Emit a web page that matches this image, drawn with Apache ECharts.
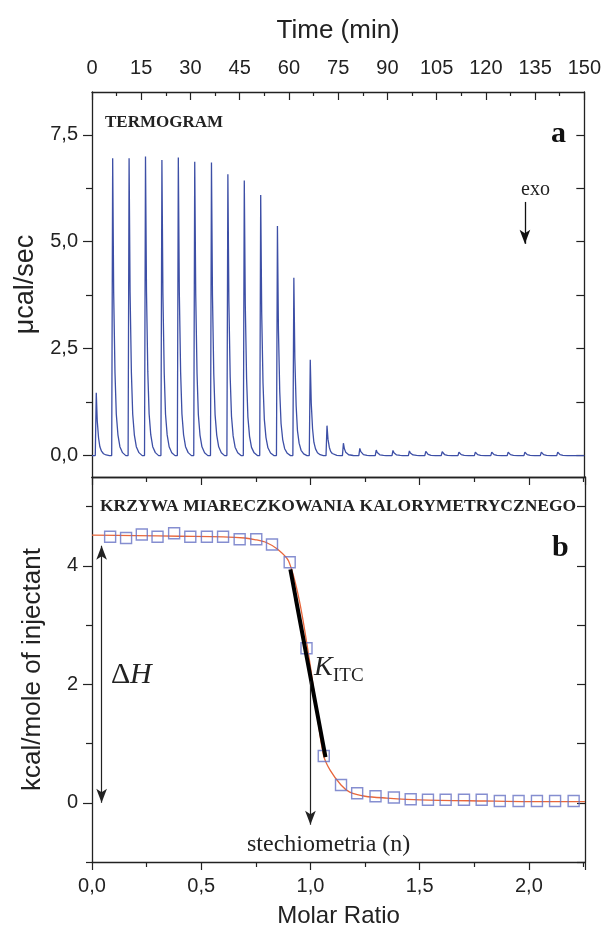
<!DOCTYPE html>
<html>
<head>
<meta charset="utf-8">
<script src="https://cdn.jsdelivr.net/npm/echarts@6/dist/echarts.min.js"></script>
<style>html,body{margin:0;padding:0;background:#fff}#c{width:604px;height:940px}</style>
</head>
<body>
<div id="c"></div>
<script>
// ---- Panel a: thermogram ----
const peakTimes = [1.3, 6.3, 11.3, 16.3, 21.3, 26.3, 31.3, 36.4, 41.4, 46.4, 51.4, 56.5, 61.5, 66.5, 71.6, 76.6, 81.6, 86.6, 91.7, 96.7, 101.7, 106.7, 111.8, 116.8, 121.8, 126.8, 131.9, 136.9, 141.9];
const peakHeights = [1.47, 6.95, 6.95, 6.99, 6.91, 6.97, 6.87, 6.85, 6.58, 6.43, 6.09, 5.37, 4.16, 2.24, 0.70, 0.29, 0.17, 0.13, 0.12, 0.11, 0.10, 0.09, 0.08, 0.08, 0.08, 0.08, 0.08, 0.08, 0.08];
// shape of one injection peak (minutes after the peak, fraction of peak height)
const shapeOffsets = [-0.3, 0, 0.3, 0.7, 1.1, 1.6, 2.2, 3.0, 4.0];
const shapeFactors = [0, 1, 0.55, 0.28, 0.14, 0.07, 0.03, 0.01, 0];
const timeTicks = [0, 15, 30, 45, 60, 75, 90, 105, 120, 135, 150];
const powerTicks = [0, 2.5, 5, 7.5];
const powerMinorTicks = [1.25, 3.75, 6.25];
const exoArrow = [[131.9, 5.93], [131.9, 4.95]];

// ---- Panel b: titration curve ----
const molarRatio = [0.083, 0.156, 0.228, 0.300, 0.376, 0.450, 0.526, 0.600, 0.676, 0.752, 0.824, 0.905, 0.982, 1.061, 1.140, 1.214, 1.298, 1.382, 1.459, 1.538, 1.619, 1.703, 1.784, 1.867, 1.953, 2.037, 2.120, 2.205];
const heat = [4.49, 4.47, 4.53, 4.49, 4.55, 4.49, 4.49, 4.49, 4.45, 4.45, 4.36, 4.06, 2.61, 0.79, 0.30, 0.16, 0.11, 0.09, 0.06, 0.05, 0.05, 0.05, 0.05, 0.03, 0.03, 0.03, 0.03, 0.03];
const fitX = [0, 0.2, 0.4, 0.6, 0.7, 0.75, 0.8, 0.85, 0.9, 0.95, 1.0, 1.03, 1.06, 1.09, 1.14, 1.18, 1.25, 1.35, 1.5, 1.8, 2.0, 2.257];
const fitY = [4.52, 4.51, 4.50, 4.49, 4.47, 4.44, 4.39, 4.28, 4.08, 3.4, 2.3, 1.5, 0.80, 0.55, 0.30, 0.18, 0.11, 0.08, 0.05, 0.03, 0.02, 0.02];
const kLine = [[0.908, 3.94], [1.069, 0.77]];
const dHArrow = [[0.044, 4.34], [0.044, 0.0]];
const stechArrow = [[1.0, 2.05], [1.0, -0.37]];
const ratioTicks = [0, 0.5, 1.0, 1.5, 2.0];
const heatTicks = [0, 2, 4];
const heatMinorTicks = [-1, 1, 3, 5];

const thermo = [[0, 0]];
peakTimes.forEach((t, i) => {
  shapeOffsets.forEach((o, j) => thermo.push([t + o, peakHeights[i] * shapeFactors[j]]));
});
thermo.push([150, 0]);

const fitData = fitX.map((x, i) => [x, fitY[i]]);
const pts = molarRatio.map((x, i) => [x, heat[i]]);

const SANS = '"Liberation Sans", Arial, sans-serif';
const SERIF = '"Liberation Serif", "Times New Roman", serif';
const AX = '#222';
const comma1 = v => v.toFixed(1).replace('.', ',');

function baseAxis(extra) {
  return Object.assign({
    type: 'value',
    splitLine: { show: false },
    axisLine: { show: true, onZero: false, lineStyle: { color: AX, width: 1.3 } },
    axisTick: { show: false },
    axisLabel: { show: false },
  }, extra);
}

const chart = echarts.init(document.getElementById('c'), null, { renderer: 'canvas' });
chart.setOption({
  animation: false,
  backgroundColor: '#fff',
  grid: [
    { left: 92, top: 92, width: 493, height: 385 },
    { left: 92, top: 477, width: 493, height: 385 }
  ],
  xAxis: [
    baseAxis({ gridIndex: 0, position: 'top', min: 0, max: 150, interval: 15,
      axisTick: { show: true, inside: true, length: 8, lineStyle: { color: AX, width: 1.2 } },
      minorTick: { show: true, splitNumber: 2, length: 4, lineStyle: { color: AX, width: 1.2 } },
      axisLabel: { show: true, margin: 14, fontFamily: SANS, fontSize: 20, color: AX },
      name: 'Time (min)', nameLocation: 'middle', nameGap: 48,
      nameTextStyle: { fontFamily: SANS, fontSize: 26, color: AX } }),
    baseAxis({ gridIndex: 0, position: 'bottom', min: 0, max: 150 }),
    baseAxis({ gridIndex: 1, position: 'bottom', min: 0, max: 2.257, interval: 0.5,
      axisTick: { show: true, inside: false, length: 8, lineStyle: { color: AX, width: 1.2 } },
      minorTick: { show: true, splitNumber: 2, length: 5, lineStyle: { color: AX, width: 1.2 } },
      axisLabel: { show: true, margin: 14, fontFamily: SANS, fontSize: 20, color: AX, formatter: comma1,
        customValues: ratioTicks },
      name: 'Molar Ratio', nameLocation: 'middle', nameGap: 42,
      nameTextStyle: { fontFamily: SANS, fontSize: 24, color: AX } }),
    baseAxis({ gridIndex: 1, position: 'top', min: 0, max: 2.257, interval: 0.5,
      axisTick: { show: true, inside: true, length: 8, lineStyle: { color: AX, width: 1.2 } },
      minorTick: { show: true, splitNumber: 2, length: 5, lineStyle: { color: AX, width: 1.2 } } })
  ],
  yAxis: [
    baseAxis({ gridIndex: 0, position: 'left', min: -0.5, max: 8.5,
      axisTick: { show: true, inside: false, length: 9, customValues: powerTicks, lineStyle: { color: AX, width: 1.2 } },
      axisLabel: { show: true, margin: 14, customValues: powerTicks, fontFamily: SANS, fontSize: 20, color: AX, formatter: comma1 },
      name: 'μcal/sec', nameLocation: 'middle', nameGap: 46,
      nameTextStyle: { fontFamily: SANS, fontSize: 27, color: AX } }),
    baseAxis({ gridIndex: 0, position: 'left', min: -0.5, max: 8.5,
      axisLine: { show: false },
      axisTick: { show: true, inside: false, length: 6, customValues: powerMinorTicks, lineStyle: { color: AX, width: 1.2 } } }),
    baseAxis({ gridIndex: 0, position: 'right', min: -0.5, max: 8.5,
      axisTick: { show: true, inside: true, length: 8, customValues: powerTicks.concat(powerMinorTicks), lineStyle: { color: AX, width: 1.2 } } }),
    baseAxis({ gridIndex: 1, position: 'left', min: -1, max: 5.5,
      axisTick: { show: true, inside: false, length: 9, customValues: heatTicks, lineStyle: { color: AX, width: 1.2 } },
      axisLabel: { show: true, margin: 14, customValues: heatTicks, fontFamily: SANS, fontSize: 20, color: AX },
      name: 'kcal/mole of injectant', nameLocation: 'middle', nameGap: 46,
      nameTextStyle: { fontFamily: SANS, fontSize: 26, color: AX } }),
    baseAxis({ gridIndex: 1, position: 'left', min: -1, max: 5.5,
      axisLine: { show: false },
      axisTick: { show: true, inside: false, length: 6, customValues: heatMinorTicks, lineStyle: { color: AX, width: 1.2 } } }),
    baseAxis({ gridIndex: 1, position: 'right', min: -1, max: 5.5,
      axisTick: { show: true, inside: true, length: 8, customValues: heatTicks.concat(heatMinorTicks), lineStyle: { color: AX, width: 1.2 } } })
  ],
  series: [
    { type: 'line', xAxisIndex: 0, yAxisIndex: 0, data: thermo, showSymbol: false, symbol: 'none',
      lineStyle: { color: '#3d4fa6', width: 1.3 }, silent: true,
      markLine: { silent: true, symbol: ['none', 'arrow'], symbolSize: [8, 14], label: { show: false },
        lineStyle: { color: '#111', width: 1.3, type: 'solid' },
        data: [[{ coord: exoArrow[0] }, { coord: exoArrow[1] }]] } },
    { type: 'line', xAxisIndex: 2, yAxisIndex: 3, data: fitData, showSymbol: false, symbol: 'none', smooth: 0.3,
      lineStyle: { color: '#e8673c', width: 1.3 }, silent: true, z: 2,
      markLine: { silent: true, label: { show: false }, symbol: ['arrow', 'arrow'], symbolSize: [8, 14],
        lineStyle: { color: '#222', width: 1.2, type: 'solid' },
        data: [[{ coord: dHArrow[0] }, { coord: dHArrow[1] }],
               [{ coord: stechArrow[0], symbol: 'none' }, { coord: stechArrow[1], symbol: 'arrow' }]] } },
    { type: 'scatter', xAxisIndex: 2, yAxisIndex: 3, data: pts, symbol: 'rect', symbolSize: 11,
      itemStyle: { color: 'rgba(255,255,255,0)', borderColor: '#6672c4', borderWidth: 1.4 }, silent: true, z: 3 },
    { type: 'line', xAxisIndex: 2, yAxisIndex: 3, data: kLine, showSymbol: false, symbol: 'none',
      lineStyle: { color: '#000', width: 4 }, silent: true, z: 4 }
  ],
  graphic: [
    { type: 'text', left: 105, top: 114, style: { text: 'TERMOGRAM', font: 'bold 17px ' + SERIF, fill: '#222' } },
    { type: 'text', left: 551, top: 119, style: { text: 'a', font: 'bold 30px ' + SERIF, fill: '#111' } },
    { type: 'text', left: 521, top: 180, style: { text: 'exo', font: '20px ' + SERIF, fill: '#222' } },
    { type: 'text', left: 100, top: 497, style: { text: 'KRZYWA MIARECZKOWANIA KALORYMETRYCZNEGO', font: 'bold 17.5px ' + SERIF, fill: '#222' } },
    { type: 'text', left: 552, top: 533, style: { text: 'b', font: 'bold 30px ' + SERIF, fill: '#111' } },
    { type: 'text', left: 111, top: 660, style: { text: 'Δ', font: '30px ' + SERIF, fill: '#222' } },
    { type: 'text', left: 130, top: 660, style: { text: 'H', font: 'italic 30px ' + SERIF, fill: '#222' } },
    { type: 'text', left: 314, top: 654, style: { text: 'K', font: 'italic 28px ' + SERIF, fill: '#222' } },
    { type: 'text', left: 333, top: 667, style: { text: 'ITC', font: '19px ' + SERIF, fill: '#222' } },
    { type: 'text', left: 247, top: 833, style: { text: 'stechiometria (n)', font: '24px ' + SERIF, fill: '#222' } }
  ]
});
</script>
</body>
</html>
